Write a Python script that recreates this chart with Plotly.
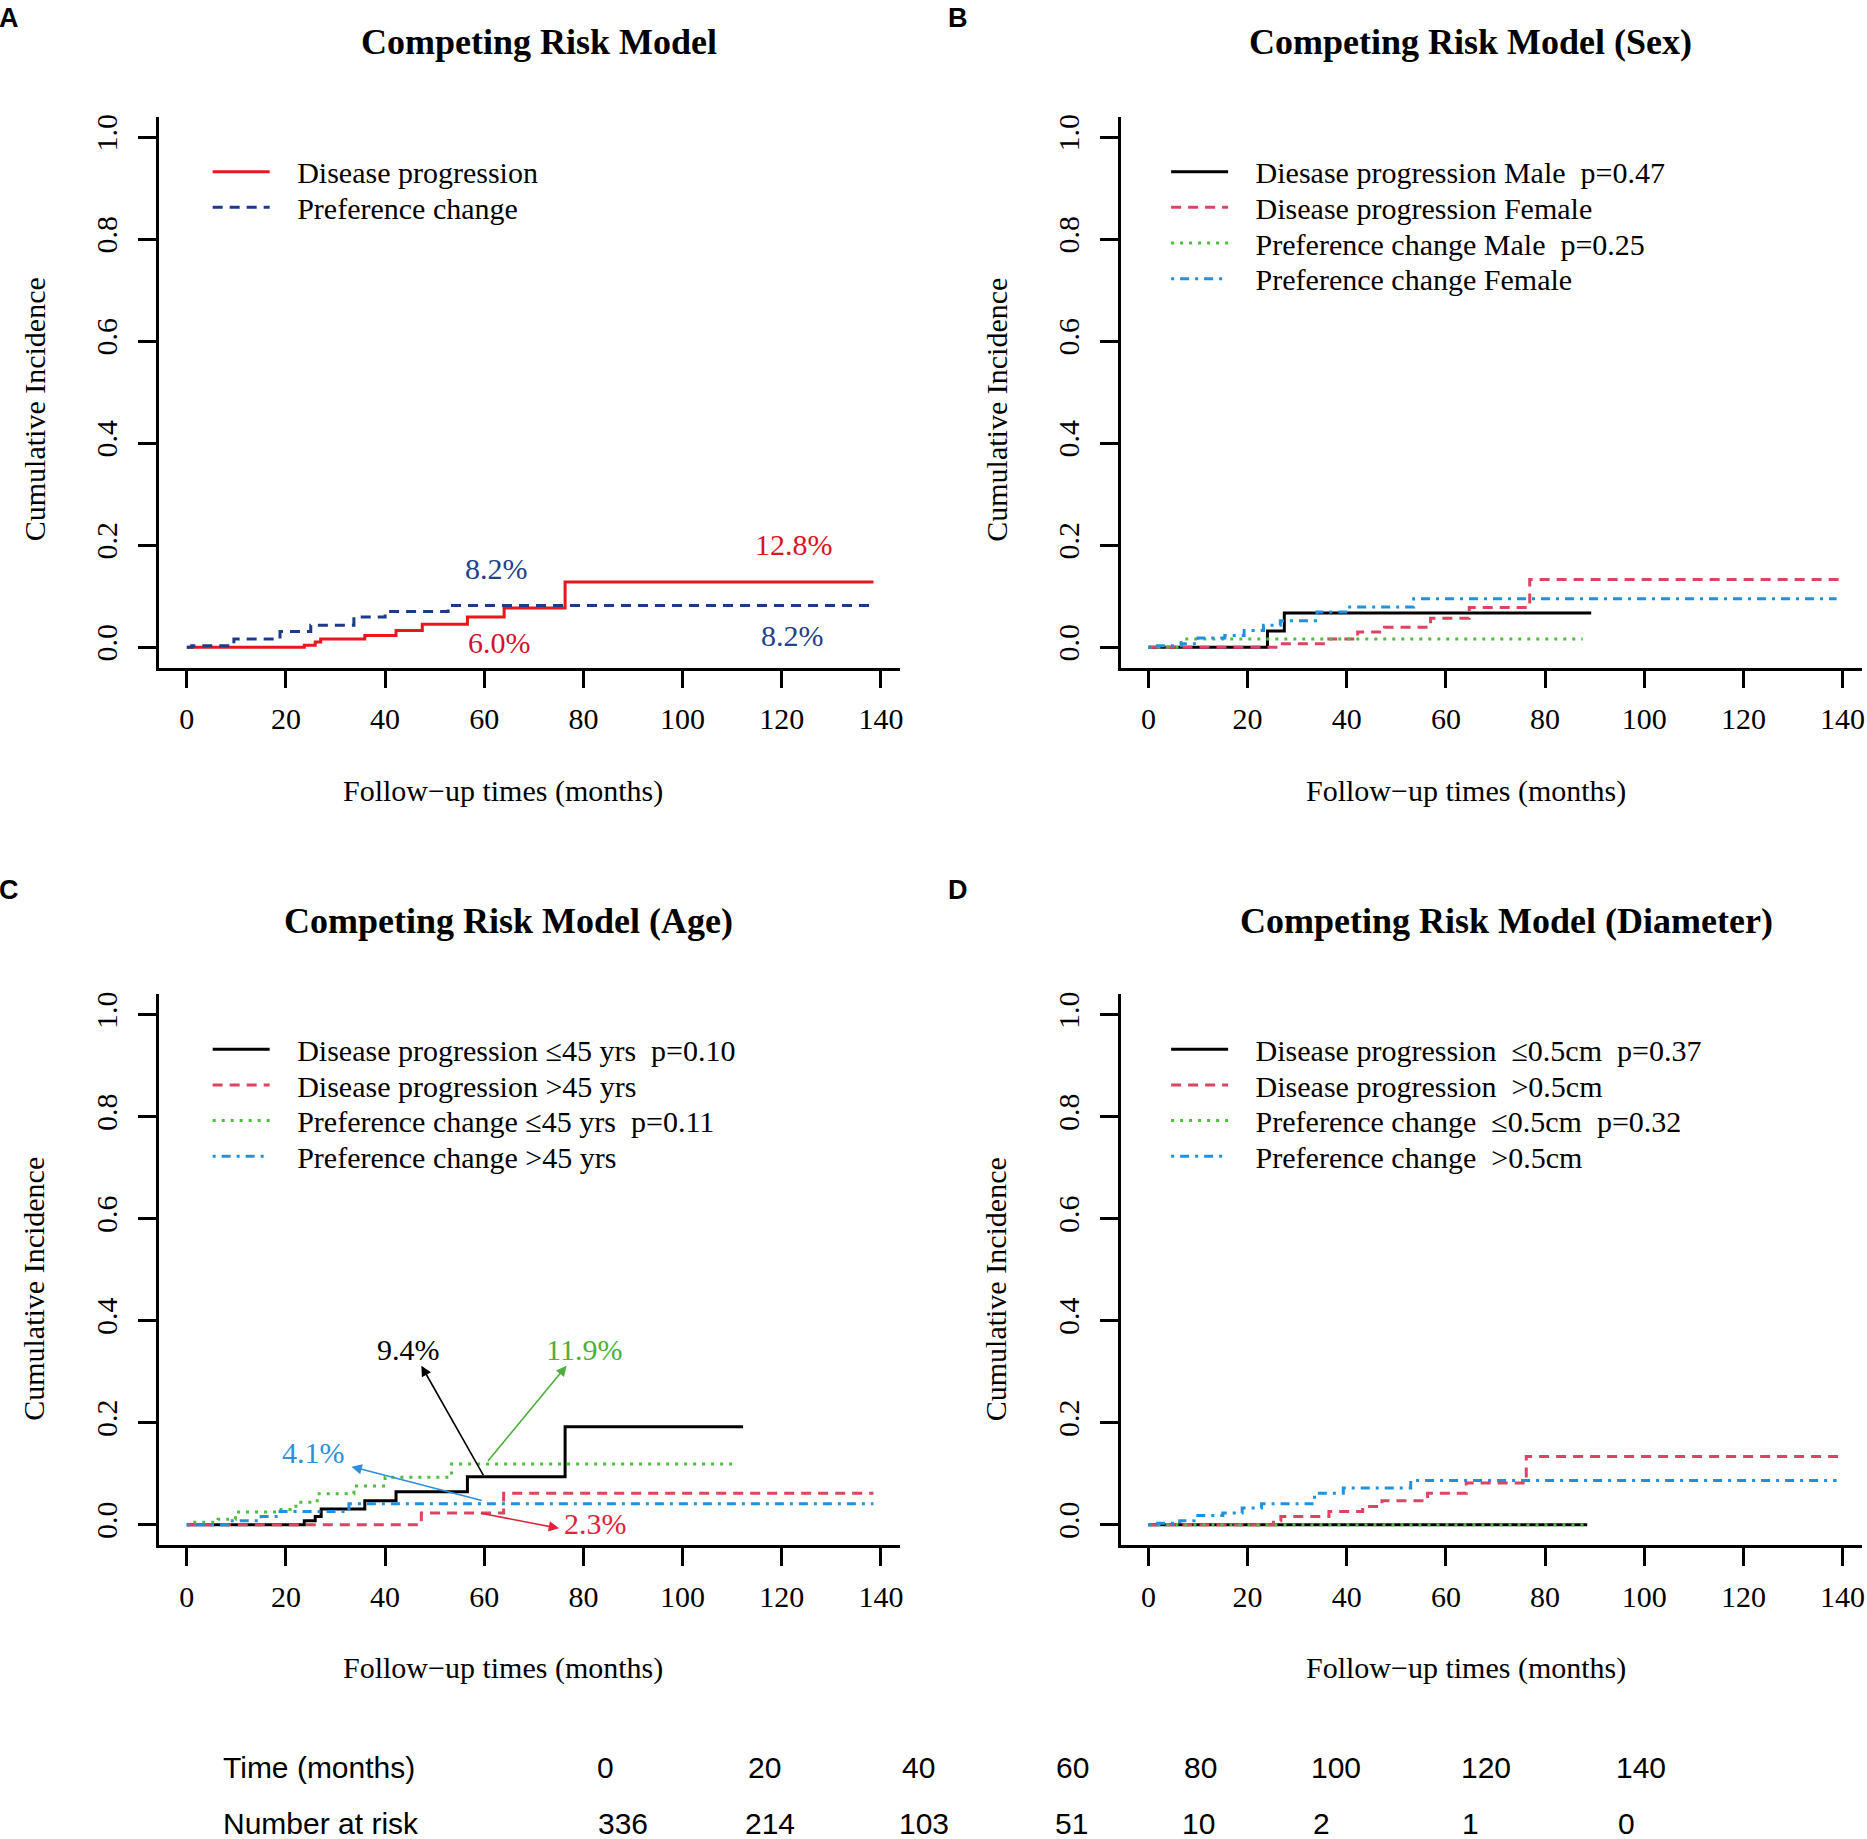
import plotly.graph_objects as go

W, H = 1867, 1839

# ---------------- data ----------------
# Panel A
A_dp_t = [0, 23.7, 25.9, 27.0, 35.9, 42.2, 47.5, 56.6, 64.0, 76.3, 138.5]
A_dp_y = [0, 0.004, 0.010, 0.016, 0.023, 0.033, 0.045, 0.059, 0.077, 0.128, 0.128]
A_pc_t = [0, 1.0, 9.5, 18.8, 25.0, 33.7, 40.0, 52.7, 138.0]
A_pc_y = [0, 0.003, 0.016, 0.031, 0.043, 0.059, 0.070, 0.082, 0.082]
# Panel B
B_dpm_t = [0, 24.0, 27.4, 89.3]
B_dpm_y = [0, 0.032, 0.067, 0.067]
B_dpf_t = [0, 25.7, 35.9, 42.2, 47.6, 56.9, 64.7, 76.9, 139.3]
B_dpf_y = [0, 0.007, 0.016, 0.030, 0.039, 0.057, 0.078, 0.133, 0.133]
B_pcm_t = [0, 6.6, 87.6]
B_pcm_y = [0, 0.016, 0.016]
B_pcf_t = [0, 1.3, 6.6, 10.0, 15.4, 19.3, 23.2, 26.6, 34.0, 39.8, 53.5, 138.8]
B_pcf_y = [0, 0.003, 0.007, 0.018, 0.023, 0.033, 0.043, 0.052, 0.069, 0.079, 0.095, 0.095]
# Panel C
C_dp1_t = [0, 23.7, 25.9, 27.1, 35.9, 42.2, 56.6, 76.3, 112.2]
C_dp1_y = [0, 0.008, 0.016, 0.031, 0.047, 0.065, 0.094, 0.192, 0.192]
C_dp2_t = [0, 47.3, 63.9, 138.5]
C_dp2_y = [0, 0.023, 0.062, 0.062]
C_pc1_t = [0, 1.0, 6.3, 9.8, 18.5, 22.0, 26.3, 33.7, 40.0, 53.4, 111.0]
C_pc1_y = [0, 0.005, 0.011, 0.025, 0.030, 0.044, 0.061, 0.076, 0.093, 0.119, 0.119]
C_pc2_t = [0, 8.8, 15.0, 18.5, 32.7, 138.5]
C_pc2_y = [0, 0.008, 0.016, 0.026, 0.041, 0.041]
# Panel D
D_dp1_t = [0, 88.5]
D_dp1_y = [0, 0]
D_dp2_t = [0, 25.2, 26.7, 36.4, 43.2, 47.1, 56.3, 64.1, 76.2, 139.3]
D_dp2_y = [0, 0.008, 0.016, 0.026, 0.036, 0.047, 0.062, 0.082, 0.134, 0.134]
D_pc1_t = [0, 88.5]
D_pc1_y = [0, 0]
D_pc2_t = [0, 1.5, 6.3, 9.2, 15.0, 18.9, 22.8, 33.5, 39.3, 52.9, 138.8]
D_pc2_y = [0, 0.003, 0.008, 0.018, 0.023, 0.033, 0.041, 0.062, 0.072, 0.087, 0.087]

x_ticks = [0, 20, 40, 60, 80, 100, 120, 140]
y_ticks = [0.0, 0.2, 0.4, 0.6, 0.8, 1.0]
y_ticklabels = ["0.0", "0.2", "0.4", "0.6", "0.8", "1.0"]

risk_times = ["0", "20", "40", "60", "80", "100", "120", "140"]
risk_numbers = ["336", "214", "103", "51", "10", "2", "1", "0"]

titles = ["Competing Risk Model", "Competing Risk Model (Sex)",
          "Competing Risk Model (Age)", "Competing Risk Model (Diameter)"]
panel_letters = ["A", "B", "C", "D"]

NB = "\u00a0"
legend_A = ["Disease progression", "Preference change"]
legend_B = ["Diesase progression Male" + NB * 2 + "p=0.47", "Disease progression Female",
            "Preference change Male" + NB * 2 + "p=0.25", "Preference change Female"]
legend_C = ["Disease progression \u226445 yrs" + NB * 2 + "p=0.10", "Disease progression >45 yrs",
            "Preference change \u226445 yrs" + NB * 2 + "p=0.11", "Preference change >45 yrs"]
legend_D = ["Disease progression" + NB * 2 + "\u22640.5cm" + NB * 2 + "p=0.37",
            "Disease progression" + NB * 2 + ">0.5cm",
            "Preference change" + NB * 2 + "\u22640.5cm" + NB * 2 + "p=0.32",
            "Preference change" + NB * 2 + ">0.5cm"]

# ---------------- styles ----------------
SERIF = "Liberation Serif, Times New Roman, serif"
SANS = "Liberation Sans, Arial, sans-serif"
RED_A = "#E8161D"
NAVY = "#1D3A8A"
R_BLACK = "#000000"
R_RED = "#DB4463"
R_GREEN = "#4DBE3C"
R_BLUE = "#2290DE"
DASH = "10px,7px"
DOT = "3px,6px"
DASHDOT = "3px,6px,9px,6px"
LW = 3
TXT_SHIFT = 4.0  # px upward correction for text annotations

fig = go.Figure()

# layout geometry (pixels)
X_LEFT = [159.3, 1122.5]
X_WIDTH = 742.4
Y_TOP = [114.0, 993.0]
Y_HEIGHT = 551.7
XR = [-5.6, 143.9]
YR = [-0.04, 1.04]
PX_PER_Y = Y_HEIGHT / (YR[1] - YR[0])

panels = []
for r in range(2):
    for c in range(2):
        panels.append((c, r))

legend_counter = [0]


def legend_name():
    legend_counter[0] += 1
    return "legend" if legend_counter[0] == 1 else "legend%d" % legend_counter[0]


GAP = NB * 3


def add_curve(idx, t, y, color, dash, name, leg_x, leg_y):
    ax = "" if idx == 0 else str(idx + 1)
    lg = legend_name()
    fig.add_trace(go.Scatter(
        x=t, y=y, mode="lines", line=dict(color=color, width=LW, dash=dash, shape="hv"),
        name=GAP + name, xaxis="x" + ax, yaxis="y" + ax, legend=lg, showlegend=True,
        hoverinfo="skip"))
    fig.layout[lg] = dict(
        x=leg_x / W, y=1 - leg_y / H, xanchor="left", yanchor="middle",
        bgcolor="rgba(0,0,0,0)", borderwidth=0,
        font=dict(family=SERIF, size=30, color="black"),
        itemwidth=57, itemclick=False, itemdoubleclick=False,
        tracegroupgap=0)


# legend row geometry
LEG_XA = 208.0
LEG_XB = 1168.0
ROW0_TOP = 169.0
ROW0_BOT = 1048.0
ROW_DY = 35.7

add_curve(0, A_dp_t, A_dp_y, RED_A, "solid", legend_A[0], LEG_XA, ROW0_TOP)
add_curve(0, A_pc_t, A_pc_y, NAVY, DASH, legend_A[1], LEG_XA, ROW0_TOP + ROW_DY)
specs = [(R_BLACK, "solid"), (R_RED, DASH), (R_GREEN, DOT), (R_BLUE, DASHDOT)]
B_data = [(B_dpm_t, B_dpm_y), (B_dpf_t, B_dpf_y), (B_pcm_t, B_pcm_y), (B_pcf_t, B_pcf_y)]
for i, ((t, y), (col, d)) in enumerate(zip(B_data, specs)):
    add_curve(1, t, y, col, d, legend_B[i], LEG_XB, ROW0_TOP + i * ROW_DY)
C_data = [(C_dp1_t, C_dp1_y), (C_dp2_t, C_dp2_y), (C_pc1_t, C_pc1_y), (C_pc2_t, C_pc2_y)]
for i, ((t, y), (col, d)) in enumerate(zip(C_data, specs)):
    add_curve(2, t, y, col, d, legend_C[i], LEG_XA, ROW0_BOT + i * ROW_DY)
D_data = [(D_dp1_t, D_dp1_y), (D_dp2_t, D_dp2_y), (D_pc1_t, D_pc1_y), (D_pc2_t, D_pc2_y)]
for i, ((t, y), (col, d)) in enumerate(zip(D_data, specs)):
    add_curve(3, t, y, col, d, legend_D[i], LEG_XB, ROW0_BOT + i * ROW_DY)

for idx, (c, r) in enumerate(panels):
    ax = "" if idx == 0 else str(idx + 1)
    x0 = X_LEFT[c] / W
    x1 = (X_LEFT[c] + X_WIDTH) / W
    y1 = 1 - Y_TOP[r] / H
    y0 = 1 - (Y_TOP[r] + Y_HEIGHT) / H
    fig.layout["xaxis" + ax] = dict(
        domain=[x0, x1], range=XR, anchor="y" + ax, showgrid=False, zeroline=False,
        showline=True, linecolor="black", linewidth=2.5,
        ticks="outside", ticklen=18, tickwidth=2.5, tickcolor="black",
        tickvals=x_ticks, ticktext=[str(v) for v in x_ticks],
        tickfont=dict(family=SERIF, size=30, color="black"), ticklabelstandoff=5)
    fig.layout["yaxis" + ax] = dict(
        domain=[y0, y1], range=YR, anchor="x" + ax, showgrid=False, zeroline=False,
        showline=True, linecolor="black", linewidth=2.5,
        ticks="outside", ticklen=18, tickwidth=2.5, tickcolor="black",
        tickvals=y_ticks, ticktext=y_ticklabels, tickangle=-90,
        tickfont=dict(family=SERIF, size=30, color="black"), ticklabelstandoff=9)

ann = []


def paper_text(x, y, text, font, xanchor="center", angle=0):
    ann.append(dict(x=x / W, y=1 - (y - TXT_SHIFT) / H, xref="paper", yref="paper", text=text,
                    showarrow=False, xanchor=xanchor, yanchor="middle", textangle=angle,
                    font=font))


title_pos = [(539.4, 42.9), (1472.9, 42.9), (509.6, 923.0), (1508.6, 923.0)]
for (tx, ty), t in zip(title_pos, titles):
    paper_text(tx, ty, "<b>%s</b>" % t, dict(family=SERIF, size=36, color="black"))
letter_pos = [(9.5, 19.0), (959.7, 19.0), (9.5, 892.0), (959.7, 892.0)]
for (tx, ty), t in zip(letter_pos, panel_letters):
    paper_text(tx, ty, "<b>%s</b>" % t, dict(family=SANS, size=27, color="black"))
xt_pos = [(503.7, 793.0), (1468.0, 793.0), (503.7, 1672.0), (1468.0, 1672.0)]
yt_pos = [(34.0, 411.0), (998.0, 411.0), (34.0, 1292.0), (998.0, 1292.0)]
for (tx, ty) in xt_pos:
    paper_text(tx, ty, "Follow\u2212up times (months)", dict(family=SERIF, size=30, color="black"))
for (tx, ty) in yt_pos:
    paper_text(tx, ty, "Cumulative Incidence", dict(family=SERIF, size=30, color="black"), angle=-90)

DY = TXT_SHIFT / PX_PER_Y
A_labels = [("8.2%", 62.5, 0.147, "#23408E"), ("12.8%", 122.4, 0.194, "#D8141E"),
            ("6.0%", 63.0, 0.002, "#D0142A"), ("8.2%", 122.2, 0.016, "#23408E")]
for txt, x, y, col in A_labels:
    ann.append(dict(x=x, y=y + DY, xref="x", yref="y", text=txt, showarrow=False,
                    xanchor="center", yanchor="middle",
                    font=dict(family=SERIF, size=30, color=col)))

C_labels = [("9.4%", 44.7, 0.336, "#000000", 60.0, 0.094, 47.3, 0.312),
            ("11.9%", 80.1, 0.336, "#4DAF3C", 60.5, 0.122, 76.6, 0.312),
            ("4.1%", 25.5, 0.133, "#2E8FD8", 59.8, 0.047, 33.2, 0.114),
            ("2.3%", 82.5, -0.005, "#E0233B", 59.0, 0.023, 75.1, -0.007)]
for txt, x, y, col, tx, ty, hx, hy in C_labels:
    ann.append(dict(x=x, y=y + DY, xref="x3", yref="y3", text=txt, showarrow=False,
                    xanchor="center", yanchor="middle",
                    font=dict(family=SERIF, size=30, color=col)))
    ann.append(dict(x=hx, y=hy, xref="x3", yref="y3", ax=tx, ay=ty, axref="x3", ayref="y3",
                    text="", showarrow=True, arrowhead=2, arrowsize=1.3, arrowwidth=1.6,
                    arrowcolor=col, standoff=0, startstandoff=0))

time_x = [606.0, 765.6, 920.4, 1074.0, 1202.6, 1338.3, 1488.4, 1643.2]
num_x = [624.0, 771.6, 925.2, 1072.8, 1200.2, 1324.0, 1472.9, 1628.9]
ROW_T = 1771.5
ROW_N = 1827.0
sans30 = dict(family=SANS, size=30, color="black")
paper_text(221.5, ROW_T, "Time (months)", sans30, xanchor="left")
paper_text(221.5, ROW_N, "Number at risk", sans30, xanchor="left")
for xx, t in zip(time_x, risk_times):
    paper_text(xx, ROW_T, t, sans30)
for xx, t in zip(num_x, risk_numbers):
    paper_text(xx, ROW_N, t, sans30)

fig.update_layout(
    width=W, height=H, autosize=False,
    margin=dict(l=0, r=0, t=0, b=0, pad=0),
    paper_bgcolor="white", plot_bgcolor="white",
    annotations=ann, showlegend=True,
)

fig.write_html("out.html", config={"displayModeBar": False},
               post_script="document.body.style.margin='0';document.body.style.overflow='hidden';")
